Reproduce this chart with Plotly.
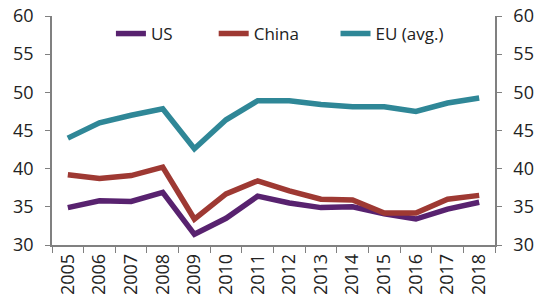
import plotly.graph_objects as go

years = ["2005","2006","2007","2008","2009","2010","2011","2012","2013","2014","2015","2016","2017","2018"]
us = [34.9, 35.8, 35.7, 36.9, 31.4, 33.5, 36.4, 35.5, 34.9, 35.0, 34.1, 33.4, 34.7, 35.6]
china = [39.2, 38.7, 39.1, 40.2, 33.4, 36.7, 38.4, 37.1, 36.0, 35.9, 34.2, 34.2, 36.0, 36.5]
eu = [44.0, 46.0, 47.0, 47.85, 42.6, 46.4, 48.9, 48.9, 48.4, 48.1, 48.1, 47.5, 48.6, 49.25]

FONT = "Open Sans"
FS = 18
fig = go.Figure()
fig.add_trace(go.Scatter(x=years, y=us, name="US", mode="lines", legend="legend",
                         line=dict(color="#58226F", width=5.5)))
fig.add_trace(go.Scatter(x=years, y=china, name="China", mode="lines", legend="legend2",
                         line=dict(color="#9E3933", width=5.5)))
fig.add_trace(go.Scatter(x=years, y=eu, name="EU (avg.)", mode="lines", legend="legend3",
                         line=dict(color="#2F8797", width=5.5)))
fig.add_trace(go.Scatter(x=years, y=eu, yaxis="y2", mode="lines",
                         line=dict(width=0), showlegend=False, hoverinfo="skip"))

axcol = "#808080"
def leg(x):
    return dict(orientation="h", x=x, xanchor="left", y=1.0, yanchor="top",
                bgcolor="rgba(0,0,0,0)", font=dict(size=17))

yax = dict(range=[30, 60], dtick=5, ticks="outside", ticklen=5, tickcolor=axcol,
           showline=True, linecolor=axcol, linewidth=1.5, showgrid=False,
           zeroline=False, tickfont=dict(size=FS), automargin=False,
           ticklabelstandoff=8)

fig.update_layout(
    width=542, height=307,
    margin=dict(l=52, r=47, t=16, b=62, autoexpand=False),
    plot_bgcolor="white", paper_bgcolor="white",
    font=dict(family=FONT, size=FS, color="#222222"),
    xaxis=dict(type="category", tickson="boundaries", ticks="outside", ticklen=6,
               tickcolor=axcol, showline=True, linecolor=axcol, linewidth=1.5,
               showgrid=False, tickangle=-90, tickfont=dict(size=FS),
               range=[-0.5, 13.5], automargin=False),
    yaxis=yax,
    yaxis2=dict(yax, overlaying="y", side="right"),
    legend=leg(0.133), legend2=leg(0.365), legend3=leg(0.640),
    showlegend=True,
)
fig.write_html("out.html", config={"displayModeBar": False},
               post_script="document.body.style.margin='0';")
